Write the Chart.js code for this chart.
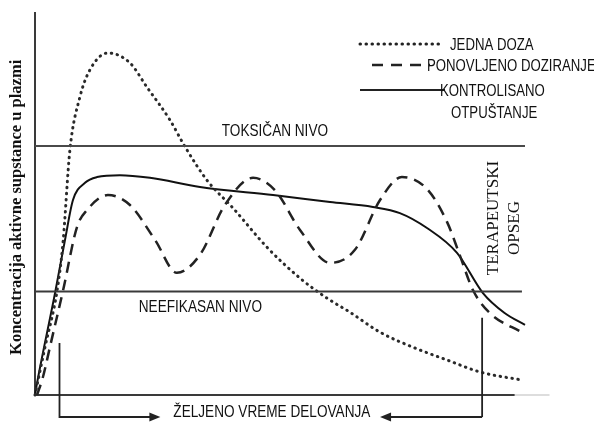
<!DOCTYPE html>
<html>
<head>
<meta charset="utf-8">
<script src="https://cdn.jsdelivr.net/npm/chart.js@4.4.1/dist/chart.umd.min.js"></script>
<style>
  html, body { margin: 0; padding: 0; background: #fff; }
</style>
</head>
<body>
<canvas id="c" width="594" height="422"></canvas>
<script>
// vrijeme (h) i koncentracija (proizvoljne jedinice), ocitano sa slike
const singleDoseT = [0, 0.49, 1.08, 1.37, 1.71, 2.2, 2.69, 3.57, 4.65, 5.48, 6.61, 7.35, 8.42, 9.7, 11.36, 12.98, 14.3, 15.4, 16.9, 18.5, 20.2, 21.8, 23.85];
const singleDoseC = [0, 12.5, 27.2, 39.7, 64, 77.8, 84.9, 89.3, 86.7, 80.4, 71.8, 64.8, 56.1, 48.8, 38.6, 30.5, 25.3, 21.7, 16.4, 12.5, 9.1, 6.0, 3.9];

const repeatedT = [0.1, 0.39, 0.73, 1.37, 2.06, 2.55, 3.57, 4.65, 5.88, 6.95, 8.08, 9.3, 10.68, 11.75, 12.98, 14.45, 15.67, 16.9, 17.97, 19.2, 20.18, 20.8, 21.45, 22.28, 23.9];
const repeatedC = [0, 4.7, 12.5, 27.2, 43.9, 48.3, 52.2, 49.6, 40.5, 31.9, 36.6, 49.6, 56.7, 53.5, 43.1, 34.5, 37.9, 50.9, 56.9, 53.8, 45.2, 36.6, 27.4, 21.4, 16.2];

const controlledT = [0, 0.1, 0.98, 1.47, 1.86, 2.45, 3.04, 4.16, 5.63, 8.08, 11.66, 14.45, 16.55, 17.87, 19.2, 20.67, 21.94, 23.0, 24.0];
const controlledC = [0, 3.1, 26.6, 40.5, 50.9, 55.4, 56.9, 57.4, 56.7, 54.3, 52.2, 50.4, 49.1, 47.5, 43.6, 37.1, 26.6, 21.4, 18.3];

const TOXIC_LEVEL = 65;
const INEFFECTIVE_LEVEL = 27;
const LEVEL_END = [24.0, 23.85];
const WINDOW_START = 1.2;
const WINDOW_END = 21.9;

const legendLabels = ['JEDNA DOZA', 'PONOVLJENO DOZIRANJE', 'KONTROLISANO', 'OTPUŠTANJE'];

const toPoints = (t, c) => t.map((x, i) => ({ x: x, y: c[i] }));

const SANS = '"Liberation Sans", Arial, sans-serif';
const SERIF = '"Liberation Serif", "Times New Roman", serif';
const NARROW = 0.8; // font u originalu je uzak (condensed)

const narrowText = (ctx, text, x, y, align) => {
    ctx.save();
    ctx.translate(x, y);
    ctx.scale(NARROW, 1);
    ctx.textAlign = align || 'left';
    ctx.fillText(text, 0, 0);
    ctx.restore();
};

const drawArrow = (ctx, x1, x2, y) => {
    const dir = x2 > x1 ? 1 : -1;
    ctx.beginPath();
    ctx.moveTo(x1, y);
    ctx.lineTo(x2 - dir * 8, y);
    ctx.stroke();
    ctx.beginPath();
    ctx.moveTo(x2, y);
    ctx.lineTo(x2 - dir * 11, y - 4.5);
    ctx.lineTo(x2 - dir * 11, y + 4.5);
    ctx.closePath();
    ctx.fill();
};

const decorations = {
    id: 'decorations',
    beforeDatasetsDraw(chart) {
        const { ctx, chartArea } = chart;
        const xs = chart.scales.x;
        ctx.save();
        ctx.strokeStyle = '#3a3a3a';
        ctx.lineWidth = 2;
        ctx.beginPath();
        ctx.moveTo(chartArea.left, chartArea.top);
        ctx.lineTo(chartArea.left, chartArea.bottom);
        ctx.lineTo(xs.getPixelForValue(23.5), chartArea.bottom);
        ctx.stroke();
        ctx.strokeStyle = '#dddddd';
        ctx.beginPath();
        ctx.moveTo(xs.getPixelForValue(23.5), chartArea.bottom);
        ctx.lineTo(xs.getPixelForValue(25.2), chartArea.bottom);
        ctx.stroke();
        ctx.restore();
    },
    afterDraw(chart) {
        const { ctx, chartArea } = chart;
        const xs = chart.scales.x;
        const ys = chart.scales.y;
        ctx.save();

        // terapeutski prozor: vertikale i strelice
        const xl = xs.getPixelForValue(WINDOW_START);
        const xr = xs.getPixelForValue(WINDOW_END);
        const yb = chartArea.bottom + 22;
        ctx.strokeStyle = '#222';
        ctx.fillStyle = '#222';
        ctx.lineWidth = 1.8;
        ctx.beginPath();
        ctx.moveTo(xl, ys.getPixelForValue(13.6));
        ctx.lineTo(xl, yb);
        ctx.lineTo(xl + 4, yb);
        ctx.moveTo(xr, ys.getPixelForValue(20.2));
        ctx.lineTo(xr, yb);
        ctx.stroke();
        drawArrow(ctx, xl, xs.getPixelForValue(6.14), yb);
        drawArrow(ctx, xr, xs.getPixelForValue(16.9), yb);

        ctx.fillStyle = '#111';
        ctx.textBaseline = 'middle';
        ctx.font = '17px ' + SANS;
        narrowText(ctx, 'ŽELJENO VREME DELOVANJA', xs.getPixelForValue(11.6), yb - 5, 'center');
        narrowText(ctx, 'TOKSIČAN NIVO', xs.getPixelForValue(11.75), ys.getPixelForValue(TOXIC_LEVEL) - 15, 'center');
        narrowText(ctx, 'NEEFIKASAN NIVO', xs.getPixelForValue(8.1), ys.getPixelForValue(INEFFECTIVE_LEVEL) + 16, 'center');

        // legenda
        const lx = chartArea.left + 325;
        const rows = [chartArea.top + 32, chartArea.top + 53, chartArea.top + 78];
        ctx.strokeStyle = '#222';
        ctx.lineCap = 'round';
        ctx.lineWidth = 3;
        ctx.setLineDash([0.5, 5.5]);
        ctx.beginPath(); ctx.moveTo(lx, rows[0]); ctx.lineTo(lx + 80, rows[0]); ctx.stroke();
        ctx.lineCap = 'butt';
        ctx.lineWidth = 2.5;
        ctx.setLineDash([11, 8]);
        ctx.beginPath(); ctx.moveTo(lx + 12, rows[1]); ctx.lineTo(lx + 70, rows[1]); ctx.stroke();
        ctx.setLineDash([]);
        ctx.lineWidth = 1.8;
        ctx.beginPath(); ctx.moveTo(lx, rows[2]); ctx.lineTo(lx + 85, rows[2]); ctx.stroke();
        ctx.font = '16.5px ' + SANS;
        narrowText(ctx, legendLabels[0], lx + 90, rows[0] + 1);
        narrowText(ctx, legendLabels[1], lx + 67, rows[1] + 1);
        narrowText(ctx, legendLabels[2], lx + 80, rows[2] + 1);
        narrowText(ctx, legendLabels[3], lx + 91, rows[2] + 23);

        // rotirani tekstovi
        ctx.textAlign = 'center';
        ctx.font = '17px ' + SERIF;
        ctx.save();
        ctx.translate(xs.getPixelForValue(22.45), ys.getPixelForValue(46.2));
        ctx.rotate(-Math.PI / 2);
        ctx.fillText('TERAPEUTSKI', 0, 0);
        ctx.restore();
        ctx.save();
        ctx.translate(xs.getPixelForValue(23.5), ys.getPixelForValue(43.6));
        ctx.rotate(-Math.PI / 2);
        ctx.fillText('OPSEG', 0, 0);
        ctx.restore();

        ctx.save();
        ctx.font = 'bold 16.5px ' + SERIF;
        ctx.translate(17, ys.getPixelForValue(49));
        ctx.rotate(-Math.PI / 2);
        ctx.fillText('Koncentracija aktivne supstance u plazmi', 0, 0);
        ctx.restore();

        ctx.restore();
    }
};

new Chart(document.getElementById('c'), {
    type: 'line',
    data: {
        datasets: [
            {
                label: 'toksican',
                data: [{ x: 0, y: TOXIC_LEVEL }, { x: LEVEL_END[0], y: TOXIC_LEVEL }],
                borderColor: '#4a4a4a',
                borderWidth: 2,
                tension: 0
            },
            {
                label: 'neefikasan',
                data: [{ x: 0, y: INEFFECTIVE_LEVEL }, { x: LEVEL_END[1], y: INEFFECTIVE_LEVEL }],
                borderColor: '#3a3a3a',
                borderWidth: 2,
                tension: 0
            },
            {
                label: legendLabels[0],
                data: toPoints(singleDoseT, singleDoseC),
                borderColor: '#2a2a2a',
                borderWidth: 3,
                borderDash: [0.5, 5.5],
                borderCapStyle: 'round',
                cubicInterpolationMode: 'monotone'
            },
            {
                label: legendLabels[1],
                data: toPoints(repeatedT, repeatedC),
                borderColor: '#222',
                borderWidth: 2.5,
                borderDash: [11, 7],
                cubicInterpolationMode: 'monotone'
            },
            {
                label: legendLabels[2] + ' ' + legendLabels[3],
                data: toPoints(controlledT, controlledC),
                borderColor: '#111',
                borderWidth: 2,
                cubicInterpolationMode: 'monotone'
            }
        ]
    },
    options: {
        responsive: false,
        animation: false,
        devicePixelRatio: 1,
        clip: false,
        layout: { padding: { left: 35, right: 69, top: 12, bottom: 27 } },
        elements: { point: { radius: 0 } },
        scales: {
            x: { type: 'linear', min: 0, max: 24, display: false },
            y: { type: 'linear', min: 0, max: 100, display: false }
        },
        plugins: {
            legend: { display: false },
            tooltip: { enabled: false }
        }
    },
    plugins: [decorations]
});
</script>
</body>
</html>
